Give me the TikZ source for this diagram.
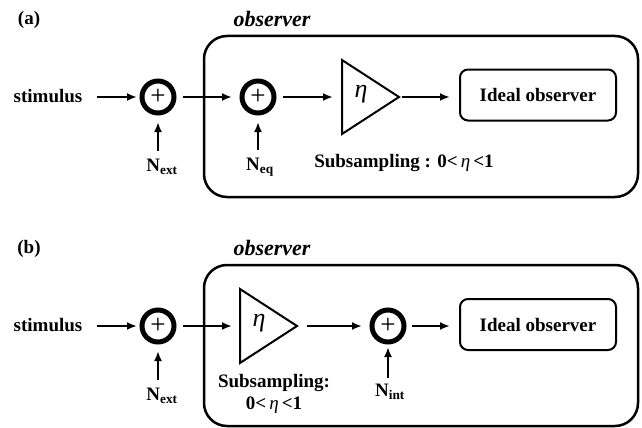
\documentclass[tikz,border=0pt]{standalone}
\usepackage{fontspec}
\setmainfont{Liberation Serif}
\usetikzlibrary{arrows.meta}
\tikzset{
  lbl/.style={font=\fontsize{19}{22}\selectfont\bfseries, inner sep=0pt},
  ttl/.style={font=\fontsize{22}{24}\selectfont\bfseries\itshape, inner sep=0pt},
  sumnode/.style={circle, draw, line width=5pt, minimum size=32pt, inner sep=0pt,
                  font=\fontsize{27}{27}\selectfont},
  ideal/.style={draw, rounded corners=8pt, line width=2pt, minimum width=156pt,
                minimum height=51pt, inner sep=0pt, font=\fontsize{19}{22}\selectfont\bfseries},
  conn/.style={line width=2pt, -{Latex[length=10pt,width=8pt]}},
  frame/.style={line width=2.5pt, rounded corners=23pt},
  tri/.style={line width=2pt, line join=miter},
  eta/.style={font=\fontsize{26}{26}\selectfont\itshape, inner sep=0pt},
}
\newcommand{\myeta}{{\mdseries\itshape\,η\,}}
\begin{document}
\begin{tikzpicture}[x=1pt,y=-1pt]
\useasboundingbox (0,0) rectangle (642,428);

% ---------- panel (a) ----------
\node[lbl] (labA) at (29,20) {(a)};
\node[ttl] (obsA) at (272,19) {observer};
\draw[frame] (204,36) rectangle (638,197);
\node[lbl] (stimA) at (48,96) {stimulus};
\node[sumnode] (sA1) at (158,97) {+};
\node[sumnode] (sA2) at (258,97) {+};
\node[lbl] (nextA) at (162,167) {N\textsubscript{ext}};
\node[lbl] (neqA) at (260,167) {N\textsubscript{eq}};
\coordinate (tAtop) at (342,60);
\coordinate (tAbot) at (342,134);
\coordinate (tAin) at (342,97);
\coordinate (tAout) at (399,97);
\draw[tri] (tAtop) -- (tAout) -- (tAbot) -- cycle;
\node[eta] (etaA) at (361,94) {η};
\node[ideal] (idA) at (538,95) {Ideal observer};
\node[lbl] (subA) at (404,163) {Subsampling : 0<\myeta<1};

\draw[conn, shorten <=14pt, shorten >=2.5pt] (stimA.east |- sA1.west) -- (sA1.west);
\draw[conn, shorten <=6.5pt, shorten >=7.5pt] (sA1.east) -- (sA2.west);
\draw[conn, shorten <=6.5pt, shorten >=9pt] (sA2.east) -- (tAin);
\draw[conn, shorten <=3pt, shorten >=9pt] (tAout) -- (idA.west |- tAout);
\draw[conn, shorten <=8pt, shorten >=6.5pt] (nextA.north -| sA1.south) -- (sA1.south);
\draw[conn, shorten <=8pt, shorten >=6.5pt] (neqA.north -| sA2.south) -- (sA2.south);

% ---------- panel (b) ----------
\node[lbl] (labB) at (29,249) {(b)};
\node[ttl] (obsB) at (272,248) {observer};
\draw[frame] (204,265) rectangle (638,426);
\node[lbl] (stimB) at (48,325) {stimulus};
\node[sumnode] (sB1) at (158,326) {+};
\node[lbl] (nextB) at (162,396) {N\textsubscript{ext}};
\coordinate (tBtop) at (240,289);
\coordinate (tBbot) at (240,363);
\coordinate (tBin) at (240,326);
\coordinate (tBout) at (297,326);
\draw[tri] (tBtop) -- (tBout) -- (tBbot) -- cycle;
\node[eta] (etaB) at (259,323) {η};
\node[sumnode] (sB2) at (388,326) {+};
\node[lbl] (nintB) at (390,392) {N\textsubscript{int}};
\node[ideal] (idB) at (538,324.5) {Ideal observer};
\node[lbl, align=center] (subB) at (274,394) {Subsampling:\\0<\myeta<1};

\draw[conn, shorten <=14pt, shorten >=2.5pt] (stimB.east |- sB1.west) -- (sB1.west);
\draw[conn, shorten <=6.5pt, shorten >=8pt] (sB1.east) -- (tBin);
\draw[conn, shorten <=10pt, shorten >=7.5pt] (tBout) -- (sB2.west);
\draw[conn, shorten <=5.5pt, shorten >=9pt] (sB2.east) -- (idB.west |- sB2.east);
\draw[conn, shorten <=8pt, shorten >=6.5pt] (nextB.north -| sB1.south) -- (sB1.south);
\draw[conn, shorten <=6pt, shorten >=2.5pt] (nintB.north -| sB2.south) -- (sB2.south);
\end{tikzpicture}
\end{document}
